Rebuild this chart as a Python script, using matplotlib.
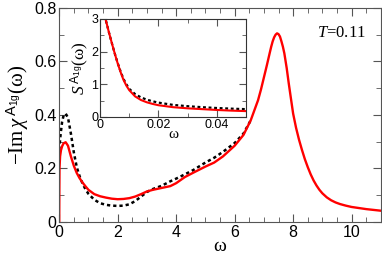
import matplotlib
matplotlib.use("Agg")
import matplotlib.pyplot as plt
from matplotlib.ticker import MultipleLocator, FuncFormatter

plt.rcParams['mathtext.fontset'] = 'custom'
plt.rcParams['mathtext.rm'] = 'Liberation Serif'
plt.rcParams['mathtext.it'] = 'Liberation Serif:italic'
plt.rcParams['mathtext.sf'] = 'Liberation Sans'
plt.rcParams['mathtext.bf'] = 'Liberation Serif:bold'
plt.rcParams['font.family'] = ['Liberation Sans', 'DejaVu Sans']

# main panel: red solid
w_red = [0.0, 0.005, 0.01, 0.03, 0.06, 0.1, 0.15, 0.22, 0.3, 0.4, 0.5, 0.6, 0.7, 0.8, 0.9, 1.0,
         1.2, 1.4, 1.6, 1.8, 2.0, 2.2, 2.4, 2.6, 2.8, 3.0, 3.2, 3.5, 3.8, 4.0, 4.3, 4.6,
         5.0, 5.3, 5.6, 6.0, 6.3, 6.55, 6.8, 6.9, 7.0, 7.1, 7.2, 7.25, 7.3, 7.35, 7.4, 7.45,
         7.5, 7.55, 7.6, 7.65, 7.7, 7.78, 7.85, 7.92, 8.0, 8.1, 8.2, 8.3, 8.4, 8.5, 8.6, 8.7,
         8.8, 8.9, 9.0, 9.15, 9.3, 9.45, 9.6, 9.8, 10.0, 10.25, 10.5, 10.75, 11.0]
chi_red = [0.0, 0.12, 0.2, 0.245, 0.268, 0.283, 0.294, 0.298, 0.285, 0.245, 0.21, 0.183, 0.163, 0.147, 0.133, 0.12,
           0.104, 0.096, 0.091, 0.087, 0.085, 0.086, 0.089, 0.095, 0.104, 0.114, 0.12, 0.127, 0.134, 0.145, 0.168, 0.185,
           0.207, 0.222, 0.245, 0.285, 0.325, 0.38, 0.455, 0.495, 0.54, 0.585, 0.632, 0.655, 0.675, 0.69, 0.70, 0.705,
           0.702, 0.693, 0.675, 0.655, 0.63, 0.575, 0.518, 0.465, 0.405, 0.352, 0.308, 0.27, 0.235, 0.205, 0.178, 0.155,
           0.136, 0.12, 0.107, 0.092, 0.081, 0.073, 0.067, 0.061, 0.056, 0.052, 0.048, 0.045, 0.042]

# main panel: black dotted
w_blk = [0.0, 0.05, 0.1, 0.15, 0.22, 0.3, 0.4, 0.5, 0.6, 0.7, 0.8, 0.9, 1.0, 1.2, 1.4, 1.6, 1.8,
         2.0, 2.2, 2.4, 2.6, 2.8, 3.0, 3.2, 3.5, 3.8, 4.0, 4.3, 4.6, 5.0, 5.3, 5.6, 6.0, 6.3, 6.55]
chi_blk = [0.27, 0.33, 0.375, 0.398, 0.405, 0.39, 0.33, 0.26, 0.205, 0.17, 0.143, 0.122, 0.105, 0.083, 0.07, 0.064, 0.061,
           0.060, 0.061, 0.066, 0.078, 0.095, 0.112, 0.123, 0.135, 0.152, 0.162, 0.178, 0.195, 0.222, 0.24, 0.262, 0.295, 0.33, 0.38]

# inset: red solid
ws_red = [0.0, 0.001, 0.002, 0.003, 0.004, 0.005, 0.006, 0.007, 0.008, 0.009, 0.010, 0.012, 0.014,
          0.016, 0.018, 0.020, 0.025, 0.030, 0.035, 0.040, 0.045, 0.050]
s_red = [3.6, 3.25, 2.95, 2.6, 2.27, 1.95, 1.65, 1.38, 1.14, 0.96, 0.82, 0.63, 0.52,
         0.45, 0.40, 0.36, 0.30, 0.265, 0.24, 0.215, 0.195, 0.18]
# inset: black dotted
ws_blk = [0.0, 0.001, 0.002, 0.003, 0.004, 0.005, 0.006, 0.007, 0.008, 0.009, 0.010, 0.012, 0.014,
          0.016, 0.018, 0.020, 0.025, 0.030, 0.035, 0.040, 0.045, 0.050]
s_blk = [3.6, 3.25, 2.95, 2.6, 2.27, 1.95, 1.66, 1.4, 1.17, 1.0, 0.86, 0.7, 0.6,
         0.53, 0.48, 0.44, 0.37, 0.33, 0.3, 0.275, 0.255, 0.24]

zero_fmt = FuncFormatter(lambda v, p: '0' if abs(v) < 1e-9 else f'{v:g}')

fig = plt.figure(figsize=(3.82, 2.56), dpi=100)
ax = fig.add_axes([0.155, 0.133, 0.842, 0.836])
ax.plot(w_blk, chi_blk, color='black', lw=1.8, ls=(0, (1.3, 1.2)))
ax.plot(w_red, chi_red, color='#ff0000', lw=1.7)
ax.set_xlim(0, 11)
ax.set_ylim(0, 0.8)
ax.xaxis.set_major_locator(MultipleLocator(2))
ax.xaxis.set_minor_locator(MultipleLocator(0.5))
ax.yaxis.set_major_locator(MultipleLocator(0.2))
ax.yaxis.set_minor_locator(MultipleLocator(0.1))
ax.yaxis.set_major_formatter(zero_fmt)
ax.tick_params(which='both', direction='in', top=True, right=True, color='#555555')
ax.tick_params(which='major', length=6, labelsize=11.5, pad=2)
ax.tick_params(which='minor', length=3.5)
for s in ax.spines.values():
    s.set_color('#555555')
ax.set_xlabel('ω', family='Liberation Serif', fontsize=14, labelpad=-1)
ax.set_ylabel(r'$-\mathrm{Im}\,\chi^{\,\mathsf{A}_{\mathsf{1g}}}\mathrm{(\omega)}$', fontsize=15, labelpad=2)
ax.text(0.952, 0.885, r'$T$=0.11', transform=ax.transAxes, ha='right', va='center',
        family='Liberation Serif', fontsize=12)

ins = fig.add_axes([0.262, 0.543, 0.382, 0.383])
ins.plot(ws_blk, s_blk, color='black', lw=1.6, ls=(0, (1.3, 1.2)))
ins.plot(ws_red, s_red, color='#ff0000', lw=1.5)
ins.set_xlim(0, 0.05)
ins.set_ylim(0, 3)
ins.xaxis.set_major_locator(MultipleLocator(0.02))
ins.xaxis.set_minor_locator(MultipleLocator(0.01))
ins.yaxis.set_major_locator(MultipleLocator(1))
ins.yaxis.set_minor_locator(MultipleLocator(0.5))
ins.xaxis.set_major_formatter(zero_fmt)
ins.tick_params(which='both', direction='in', top=True, right=True, color='#555555')
ins.tick_params(which='major', length=5, labelsize=9, pad=1.5)
ins.tick_params(which='minor', length=3)
for s in ins.spines.values():
    s.set_color('#333333')
ins.set_xlabel('ω', family='Liberation Serif', fontsize=11, labelpad=-2)
ins.set_ylabel(r'$S^{\,\mathsf{A}_{\mathsf{1g}}}\mathrm{(\omega)}$', fontsize=12.5, labelpad=0)

fig.savefig('out.png', dpi=100)
